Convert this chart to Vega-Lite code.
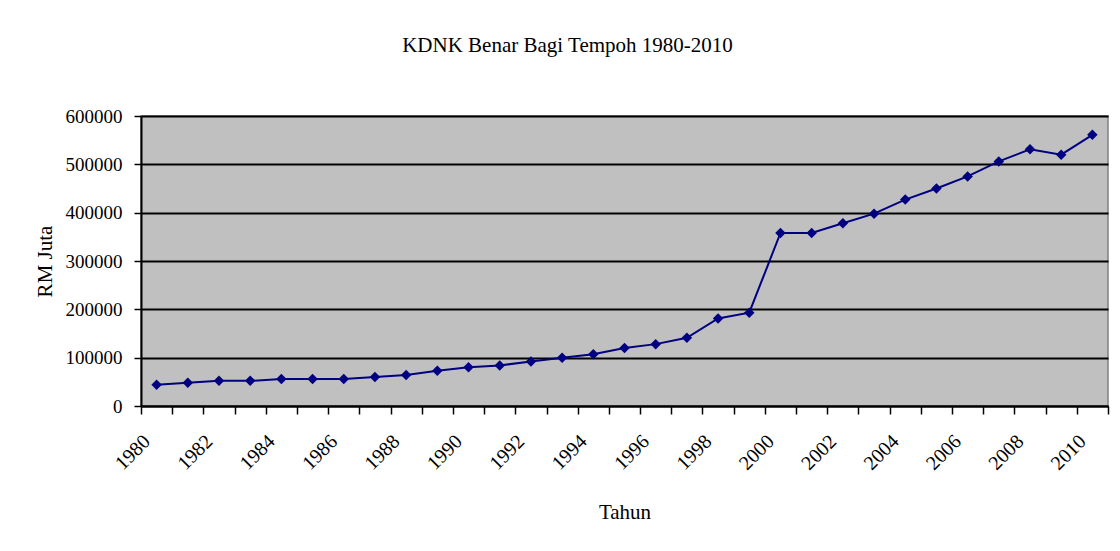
{
  "$schema": "https://vega.github.io/schema/vega-lite/v6.json",
  "autosize": {"type": "none"},
  "padding": {"left": 141, "top": 116, "right": 12, "bottom": 145},
  "width": 967,
  "height": 290,
  "background": "white",
  "title": {
    "text": "KDNK Benar Bagi Tempoh 1980-2010",
    "font": "Liberation Serif",
    "fontSize": 21,
    "fontWeight": "normal",
    "color": "black",
    "anchor": "middle",
    "dx": -57,
    "offset": 51
  },
  "config": {
    "view": {"fill": "#C0C0C0", "stroke": "#808080", "strokeWidth": 1.5},
    "axis": {
      "labelFont": "Liberation Serif",
      "titleFont": "Liberation Serif",
      "labelColor": "black",
      "titleColor": "black",
      "domainColor": "black",
      "tickColor": "black",
      "domainWidth": 2,
      "tickWidth": 1.5
    }
  },
  "data": {
    "values": [
      {"Tahun": 1980, "KDNK": 44000},
      {"Tahun": 1981, "KDNK": 48000},
      {"Tahun": 1982, "KDNK": 52000},
      {"Tahun": 1983, "KDNK": 52000},
      {"Tahun": 1984, "KDNK": 56000},
      {"Tahun": 1985, "KDNK": 56000},
      {"Tahun": 1986, "KDNK": 56000},
      {"Tahun": 1987, "KDNK": 60000},
      {"Tahun": 1988, "KDNK": 64000},
      {"Tahun": 1989, "KDNK": 73000},
      {"Tahun": 1990, "KDNK": 80000},
      {"Tahun": 1991, "KDNK": 84000},
      {"Tahun": 1992, "KDNK": 92000},
      {"Tahun": 1993, "KDNK": 100000},
      {"Tahun": 1994, "KDNK": 107000},
      {"Tahun": 1995, "KDNK": 120000},
      {"Tahun": 1996, "KDNK": 128000},
      {"Tahun": 1997, "KDNK": 141000},
      {"Tahun": 1998, "KDNK": 181000},
      {"Tahun": 1999, "KDNK": 193000},
      {"Tahun": 2000, "KDNK": 358000},
      {"Tahun": 2001, "KDNK": 358000},
      {"Tahun": 2002, "KDNK": 378000},
      {"Tahun": 2003, "KDNK": 398000},
      {"Tahun": 2004, "KDNK": 427000},
      {"Tahun": 2005, "KDNK": 450000},
      {"Tahun": 2006, "KDNK": 475000},
      {"Tahun": 2007, "KDNK": 506000},
      {"Tahun": 2008, "KDNK": 531000},
      {"Tahun": 2009, "KDNK": 520000},
      {"Tahun": 2010, "KDNK": 561000}
    ]
  },
  "encoding": {
    "x": {
      "field": "Tahun",
      "type": "ordinal",
      "bandPosition": 0.5,
      "scale": {"type": "band", "paddingInner": 0, "paddingOuter": 0},
      "axis": {
        "title": "Tahun",
        "titleFontSize": 21,
        "titleFontWeight": "normal",
        "titlePadding": 28,
        "labelFontSize": 20,
        "labelAngle": -45,
        "labelAlign": "right",
        "labelBaseline": "middle",
        "labelPadding": 24,
        "labelOffset": -10,
        "tickBand": "extent",
        "tickSize": 8,
        "labelOverlap": false,
        "labelExpr": "datum.value % 2 == 0 ? datum.label : ''",
        "grid": false
      }
    },
    "y": {
      "field": "KDNK",
      "type": "quantitative",
      "scale": {"domain": [0, 600000], "nice": false},
      "axis": {
        "title": "RM Juta",
        "titleFontSize": 21,
        "titleFontWeight": "normal",
        "titlePadding": 10,
        "values": [0, 100000, 200000, 300000, 400000, 500000, 600000],
        "format": "d",
        "labelFontSize": 19,
        "labelPadding": 12,
        "tickSize": 7,
        "grid": true,
        "gridColor": "black",
        "gridWidth": 2,
        "gridOpacity": 1
      }
    }
  },
  "layer": [
    {"mark": {"type": "line", "color": "#000080", "strokeWidth": 2}},
    {"mark": {"type": "point", "shape": "diamond", "filled": true, "color": "#000080", "opacity": 1, "size": 110}}
  ]
}
